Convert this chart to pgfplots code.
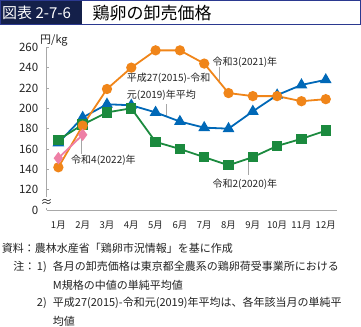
\documentclass[border=0pt]{standalone}
\usepackage{fontspec}
\setmainfont{Noto Sans CJK JP}
\usepackage{pgfplots}
\pgfplotsset{compat=1.18}
\definecolor{cOrange}{HTML}{F08519}
\definecolor{cBlue}{HTML}{0068B7}
\definecolor{cGreen}{HTML}{1B8A3E}
\definecolor{cPink}{HTML}{EE7FA6}
\definecolor{cNavy}{HTML}{14204A}
\definecolor{cBorder}{HTML}{2B3990}
\definecolor{cText}{HTML}{222222}
\definecolor{cAxis}{HTML}{A8A8A8}
\newcommand{\fs}[1]{\fontsize{#1bp}{#1bp}\selectfont}
\begin{document}
\begin{tikzpicture}[x=1bp,y=1bp]
\useasboundingbox (0,0) rectangle (361,-327);
% title bar
\fill[cNavy] (0,0) rectangle (82,-25);
\draw[cBorder, line width=1.2bp] (0.6,-0.6) rectangle (360.4,-24.4);
\node[anchor=west, inner sep=0, text=white] at (2,-13) {\fs{15}図表 2-7-6};
\node[anchor=west, inner sep=0, text=black] at (92.5,-13) {\fs{17}鶏卵の卸売価格};
% unit
\node[anchor=west, inner sep=0, text=cText] at (40,-40) {\fs{11}円/kg};
\begin{axis}[
  at={(46.7bp,-210bp)}, anchor=south west,
  scale only axis, width=290bp, height=162.7bp,
  xmin=0.52, xmax=12.45, ymin=100, ymax=260,
  clip=false,
  axis x line=bottom, axis y line=left,
  axis line style={-},
  x axis line style={draw=cAxis, line width=0.8bp},
  y axis line style={draw=none},
  xtick={1,...,12},
  xticklabels={1月,2月,3月,4月,5月,6月,7月,8月,9月,10月,11月,12月},
  x tick style={draw=none},
  ytick={100,120,...,260},
  yticklabels={0,120,140,160,180,200,220,240,260},
  tick align=inside,
  major tick length=2.5bp,
  y tick style={draw=cAxis, line width=0.6bp},
  /pgf/number format/assume math mode=true,
  xticklabel style={font=\fs{9.5}, text=cText, yshift=-7bp},
  yticklabel style={font=\fs{11.5}, text=cText, xshift=-5bp},
]
\draw[cAxis, line width=0.8bp] (axis cs:0.52,260) -- (axis cs:0.52,113);
\draw[cAxis, line width=0.8bp] (axis cs:0.52,100) -- (axis cs:0.52,102);
\node[inner sep=0, text=cText] at (axis cs:0.52,106.5) {\fs{12}≈};
% leader lines
\draw[gray!70, line width=0.6bp] (axis cs:5.46,204) -- (axis cs:5.46,192.5);
\draw[gray!70, line width=0.6bp] (axis cs:7.63,241) -- (axis cs:7.63,226);
\draw[gray!70, line width=0.6bp] (axis cs:8.82,150) -- (axis cs:8.82,134);
\draw[gray!70, line width=0.6bp] (axis cs:1.93,172) -- (axis cs:1.93,155);
% series
\addplot[cBlue, line width=1.8bp, mark=triangle*, mark size=5bp, mark options={solid}] coordinates {
 (1,166)(2,191)(3,204)(4,203)(5,196)(6,187)(7,181)(8,180)(9,197)(10,213)(11,223)(12,228)};
\addplot[cGreen, line width=1.8bp, mark=square*, mark size=4.3bp, mark options={solid}] coordinates {
 (1,169)(2,184)(3,196)(4,200)(5,167)(6,160)(7,152)(8,144)(9,152)(10,163)(11,170)(12,178)};
\addplot[cOrange, line width=1.8bp, mark=*, mark size=4.2bp, mark options={solid}] coordinates {
 (1,142)(2,183)(3,219)(4,240)(5,257)(6,257)(7,244)(8,215)(9,212)(10,212)(11,207)(12,209)};
\addplot[cPink, line width=1.8bp, mark=diamond*, mark size=4.8bp, mark options={solid}] coordinates {
 (1,151)(2,174)};
% annotations
\node[anchor=west, inner sep=0, text=cText] at (axis cs:3.81,229.8) {\fs{10}平成27(2015)-令和};
\node[anchor=west, inner sep=0, text=cText] at (axis cs:3.81,213) {\fs{10}元(2019)年平均};
\node[anchor=west, inner sep=0, text=cText] at (axis cs:7.34,245.2) {\fs{10}令和3(2021)年};
\node[anchor=west, inner sep=0, text=cText] at (axis cs:7.34,125.5) {\fs{10}令和2(2020)年};
\node[anchor=west, inner sep=0, text=cText] at (axis cs:1.52,149.1) {\fs{10}令和4(2022)年};
\end{axis}
% notes
\node[anchor=west, inner sep=0, text=cText] at (1.7,-248.3) {\fs{11}資料：農林水産省「鶏卵市況情報」を基に作成};
\node[anchor=west, inner sep=0, text=cText] at (13.3,-266.7) {\fs{11}注：};
\node[anchor=east, inner sep=0, text=cText] at (47,-266.7) {\fs{11}1)};
\node[anchor=west, inner sep=0, text=cText] at (52.7,-266.7) {\fs{11}各月の卸売価格は東京都全農系の鶏卵荷受事業所における};
\node[anchor=west, inner sep=0, text=cText] at (52.7,-285) {\fs{11}M規格の中値の単純平均値};
\node[anchor=east, inner sep=0, text=cText] at (47,-303.3) {\fs{11}2)};
\node[anchor=west, inner sep=0, text=cText] at (52.7,-303.3) {\fs{11}平成27(2015)-令和元(2019)年平均は、各年該当月の単純平};
\node[anchor=west, inner sep=0, text=cText] at (52.7,-321.6) {\fs{11}均値};
\end{tikzpicture}
\end{document}
